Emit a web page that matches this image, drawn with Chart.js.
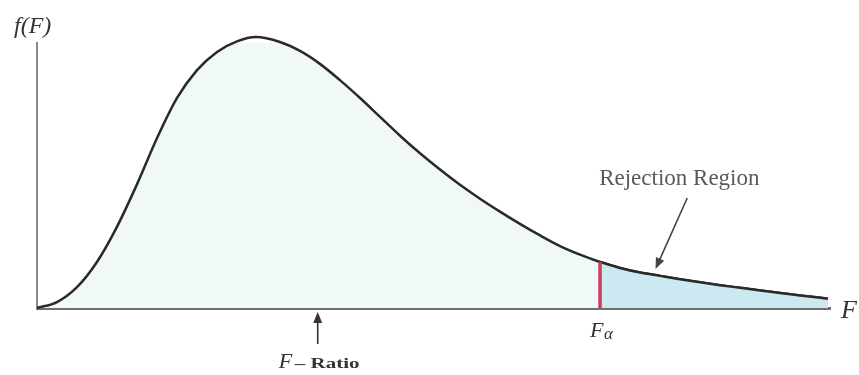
<!DOCTYPE html>
<html>
<head>
<meta charset="utf-8">
<script src="https://cdn.jsdelivr.net/npm/chart.js@4/dist/chart.umd.min.js"></script>
<style>
  html, body { margin: 0; padding: 0; background: #fff; }
  #wrap { width: 859px; height: 375px; }
</style>
</head>
<body>
<div id="wrap"><canvas id="fChart" width="859" height="375"></canvas></div>
<script>
// curva F
var fValues = [0, 0.126, 0.252, 0.378, 0.504, 0.631, 0.757, 0.883, 1.009, 1.135, 1.261, 1.381,
  1.532, 1.658, 1.784, 1.91, 2.037, 2.163, 2.289, 2.415, 2.541, 2.667, 2.793, 2.919,
  3.045, 3.172, 3.298, 3.424, 3.55, 3.676, 3.802, 3.928, 4.054, 4.18, 4.306, 4.433,
  4.559, 4.685, 4.811, 4.987];
var density = [0, 0.018, 0.063, 0.139, 0.245, 0.374, 0.513, 0.634, 0.718, 0.773, 0.805, 0.818,
  0.803, 0.776, 0.737, 0.688, 0.634, 0.577, 0.52, 0.467, 0.418, 0.372, 0.33, 0.291,
  0.254, 0.219, 0.187, 0.161, 0.139, 0.121, 0.107, 0.097, 0.087, 0.078, 0.069, 0.061,
  0.053, 0.045, 0.038, 0.028];
var fAlpha = 3.55;
var fRatioMark = 1.77;
var xRange = [0, 5];
var yRange = [0, 0.8];

var curvePts = fValues.map(function(x, i) { return { x: x, y: density[i] }; });
var tailPts = curvePts.filter(function(p) { return p.x >= fAlpha; });
var alphaHeight = density[fValues.indexOf(fAlpha)];

var SERIF = '"Liberation Serif", "DejaVu Serif", serif';

function arrow(ctx, x1, y1, x2, y2, color) {
  var ang = Math.atan2(y2 - y1, x2 - x1);
  var head = 11, w = 4.5;
  ctx.save();
  ctx.strokeStyle = color;
  ctx.fillStyle = color;
  ctx.lineWidth = 1.6;
  ctx.beginPath();
  ctx.moveTo(x1, y1);
  ctx.lineTo(x2 - Math.cos(ang) * head * 0.8, y2 - Math.sin(ang) * head * 0.8);
  ctx.stroke();
  ctx.beginPath();
  ctx.moveTo(x2, y2);
  ctx.lineTo(x2 - Math.cos(ang) * head - Math.sin(ang) * w, y2 - Math.sin(ang) * head + Math.cos(ang) * w);
  ctx.lineTo(x2 - Math.cos(ang) * head + Math.sin(ang) * w, y2 - Math.sin(ang) * head - Math.cos(ang) * w);
  ctx.closePath();
  ctx.fill();
  ctx.restore();
}

// textos y flechas
var labelsPlugin = {
  id: 'fLabels',
  afterDatasetsDraw: function(chart) {
    var ctx = chart.ctx;
    var xs = chart.scales.x, ys = chart.scales.y;
    var area = chart.chartArea;
    ctx.save();
    ctx.textBaseline = 'alphabetic';

    // f(F)
    ctx.fillStyle = '#333';
    ctx.font = 'italic 24px ' + SERIF;
    ctx.textAlign = 'left';
    ctx.fillText('f(F)', area.left - 23, area.top - 10);

    // F al final del eje
    ctx.font = 'italic 26px ' + SERIF;
    ctx.fillText('F', area.right + 11, area.bottom + 10);

    // F alfa
    var ax = xs.getPixelForValue(fAlpha);
    ctx.font = 'italic 22px ' + SERIF;
    ctx.fillText('F', ax - 10, area.bottom + 29);
    ctx.font = 'italic 17px ' + SERIF;
    ctx.fillText('\u03b1', ax + 4, area.bottom + 31);

    // Rejection Region
    ctx.fillStyle = '#5a5a5a';
    ctx.font = '23px ' + SERIF;
    ctx.textAlign = 'center';
    ctx.fillText('Rejection Region', xs.getPixelForValue(4.05), ys.getPixelForValue(0.37));
    arrow(ctx, xs.getPixelForValue(4.10), ys.getPixelForValue(0.332),
      xs.getPixelForValue(3.90), ys.getPixelForValue(0.118), '#444');

    // F - Ratio
    var rx = xs.getPixelForValue(fRatioMark);
    arrow(ctx, rx, area.bottom + 36, rx, area.bottom + 4, '#333');
    ctx.textAlign = 'left';
    ctx.fillStyle = '#333';
    ctx.font = 'italic 22px ' + SERIF;
    ctx.fillText('F', rx - 39, area.bottom + 60);
    ctx.save();
    ctx.translate(rx - 23, area.bottom + 60);
    ctx.scale(1.5, 1);
    ctx.font = 'bold 14px ' + SERIF;
    ctx.fillText('\u2013 Ratio', 0, 0);
    ctx.restore();
    ctx.restore();
  }
};

var ctx = document.getElementById('fChart');
new Chart(ctx, {
  type: 'line',
  data: {
    datasets: [
      {
        label: 'f(F)',
        data: curvePts,
        borderColor: '#2a2a2a',
        borderWidth: 2.5,
        backgroundColor: '#f0f8f8',
        fill: 'origin',
        pointRadius: 0,
        cubicInterpolationMode: 'monotone',
        clip: false,
        order: 3
      },
      {
        label: 'Rejection',
        data: tailPts,
        borderColor: '#2a2a2a',
        borderWidth: 2.5,
        backgroundColor: '#cce9f1',
        fill: 'origin',
        pointRadius: 0,
        cubicInterpolationMode: 'monotone',
        order: 2
      },
      {
        label: 'F alpha',
        data: [{ x: fAlpha, y: 0 }, { x: fAlpha, y: alphaHeight }],
        borderColor: '#cc3d5c',
        borderWidth: 3.5,
        pointRadius: 0,
        fill: false,
        order: 1
      }
    ]
  },
  options: {
    responsive: false,
    animation: false,
    devicePixelRatio: 1,
    layout: { padding: { left: 37, right: 29, top: 43, bottom: 67 } },
    plugins: { legend: { display: false }, tooltip: { enabled: false } },
    scales: {
      x: {
        type: 'linear',
        min: xRange[0], max: xRange[1],
        ticks: { display: false },
        grid: { display: false, drawTicks: false },
        border: { display: true, color: '#707070', width: 3 }
      },
      y: {
        min: yRange[0], max: yRange[1],
        ticks: { display: false },
        grid: { display: false, drawTicks: false },
        border: { display: true, color: '#8a8a8a', width: 2 }
      }
    }
  },
  plugins: [labelsPlugin]
});
</script>
</body>
</html>
